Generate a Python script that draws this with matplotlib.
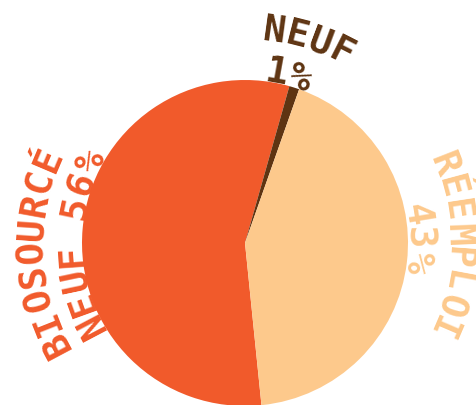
import numpy as np
import matplotlib
matplotlib.use("Agg")
import matplotlib.pyplot as plt
from matplotlib.font_manager import FontProperties
from matplotlib.textpath import TextToPath

# Material origin shares (percent)
categories = ["BIOSOURCÉ NEUF", "NEUF", "RÉEMPLOI"]
values = [56, 1, 43]
colors = ["#F15A2B", "#5E3412", "#FDC98C"]

W, H, DPI = 477, 405, 100
fig = plt.figure(figsize=(W / DPI, H / DPI), dpi=DPI)
ax = fig.add_axes([0, 0, 1, 1])

cx, cy, R = 245, 405 - 243, 163

# Slices run clockwise from just right of straight down
ax.pie(values, colors=colors, startangle=-84.2, counterclock=False,
       center=(cx, cy), radius=R, wedgeprops=dict(linewidth=0))

ax.set_xlim(0, W)
ax.set_ylim(0, H)
ax.set_aspect("equal")
ax.axis("off")

fs = 27
prop = FontProperties(family="DejaVu Sans Mono", weight="bold", size=fs)
t2p = TextToPath()
px = DPI / 72.0


def text_width(s):
    if not s:
        return 0.0
    w, _, _ = t2p.get_text_width_height_descent(s, prop, ismath=False)
    return w * px


def arc_text(s, theta_c, rb, color):
    """Lay a string along a circle, clockwise, tops of glyphs pointing outward.
    theta_c: centre angle in degrees measured clockwise from 12 o'clock."""
    total = text_width(s)
    for i, ch in enumerate(s):
        if ch == " ":
            continue
        mid = (text_width(s[:i]) + text_width(s[:i + 1])) / 2 - total / 2
        th = theta_c + np.degrees(mid / rb)
        t = np.radians(th)
        x = cx + rb * np.sin(t)
        y = cy + rb * np.cos(t)
        ax.text(x, y, ch, fontproperties=prop, color=color, rotation=-th,
                rotation_mode="anchor", ha="center", va="baseline", zorder=5)


outer_theta = [267.5, 17.4, 90.9]
inner_theta = [270.0, 14.3, 88.5]
r_outer, r_inner = 203, 163

for name, v, col, to, ti in zip(categories, values, colors, outer_theta, inner_theta):
    words = name.split(" ")
    outer = words[0]
    inner = " ".join(words[1:] + [f"{v}%"])
    arc_text(outer, to, r_outer, col)
    arc_text(inner, ti, r_inner, col)

fig.savefig("out.png", dpi=DPI)
